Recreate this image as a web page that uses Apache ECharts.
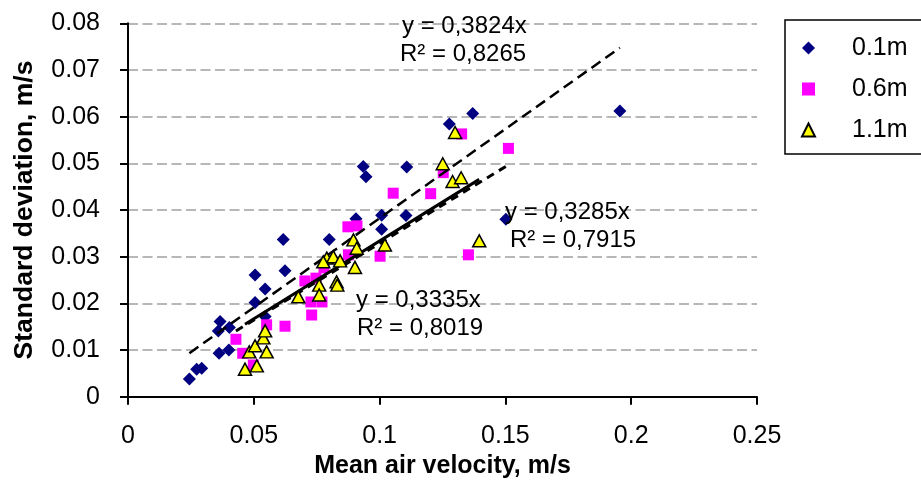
<!DOCTYPE html>
<html><head><meta charset="utf-8">
<script src="https://cdn.jsdelivr.net/npm/echarts@6/dist/echarts.min.js"></script>
<style>html,body{margin:0;padding:0;background:#fff}#c{width:921px;height:487px}</style>
</head><body><div id="c"></div>
<script>
// ---- data ----
const seriesNames = ['0.1m', '0.6m', '1.1m'];
const x01 = [0.0244,0.0273,0.0293,0.0362,0.0401,0.0366,0.0359,0.0403,0.0505,0.0545,0.0505,0.0624,0.0617,0.0800,0.0935,0.0946,0.1108,0.0906,0.1008,0.1105,0.1008,0.1370,0.1277,0.1502,0.1955,0.0545];
const y01 = [0.0038,0.0059,0.0061,0.0093,0.0100,0.0161,0.0141,0.0148,0.0261,0.0231,0.0202,0.0270,0.0337,0.0337,0.0493,0.0471,0.0492,0.0381,0.0389,0.0388,0.0359,0.0607,0.0584,0.0380,0.0612,0.0172];
const x06 = [0.0429,0.0456,0.0498,0.0551,0.0624,0.0703,0.0747,0.0779,0.0730,0.0727,0.0771,0.0874,0.0910,0.0876,0.1002,0.1054,0.1203,0.1253,0.1326,0.1512,0.1353];
const y06 = [0.0123,0.0093,0.0068,0.0154,0.0151,0.0248,0.0254,0.0276,0.0175,0.0203,0.0203,0.0364,0.0366,0.0304,0.0301,0.0436,0.0435,0.0480,0.0563,0.0532,0.0304];
const x11 = [0.0465,0.0482,0.0512,0.0505,0.0551,0.0538,0.0545,0.0677,0.0896,0.0909,0.1021,0.0790,0.0816,0.0776,0.0843,0.0902,0.0829,0.0832,0.0760,0.0760,0.1300,0.1251,0.1290,0.1324,0.1396];
const y11 = [0.0059,0.0096,0.0066,0.0109,0.0096,0.0126,0.0141,0.0214,0.0336,0.0318,0.0325,0.0297,0.0300,0.0289,0.0291,0.0277,0.0246,0.0239,0.0239,0.0218,0.0566,0.0499,0.0461,0.0469,0.0334];
const trendSlopes = [0.3824, 0.3285, 0.3335];
const trendEq = ['y = 0,3824x', 'y = 0,3285x', 'y = 0,3335x'];
const trendR2 = ['R² = 0,8265', 'R² = 0,7915', 'R² = 0,8019'];
const xTitle = 'Mean air velocity, m/s';
const yTitle = 'Standard deviation, m/s';

const zip = (xs, ys) => xs.map((x, i) => [x, ys[i]]);
const trend = (xs, k) => { const a = Math.min(...xs), b = Math.max(...xs); return [[a, k * a], [b, k * b]]; };

const FONT = 'Liberation Sans, Arial, sans-serif';
const chart = echarts.init(document.getElementById('c'), null, {renderer: 'canvas'});
chart.setOption({
  animation: false,
  backgroundColor: '#fff',
  grid: {left: 128, right: 164, top: 23.3, bottom: 90.3, containLabel: false},
  xAxis: {
    type: 'value', min: 0, max: 0.25, interval: 0.05,
    name: xTitle, nameLocation: 'middle', nameGap: 57,
    nameTextStyle: {fontFamily: FONT, fontSize: 25, fontWeight: 'bold', color: '#000'},
    axisLine: {lineStyle: {color: '#000', width: 2}},
    axisTick: {show: true, length: 8, lineStyle: {color: '#000', width: 2}},
    axisLabel: {fontFamily: FONT, fontSize: 25, color: '#000', margin: 27},
    splitLine: {show: false}
  },
  yAxis: {
    type: 'value', min: 0, max: 0.08, interval: 0.01,
    name: yTitle, nameLocation: 'middle', nameGap: 90,
    nameTextStyle: {fontFamily: FONT, fontSize: 26.5, fontWeight: 'bold', color: '#000'},
    axisLine: {show: true, lineStyle: {color: '#000', width: 2}},
    axisTick: {show: true, length: 8, lineStyle: {color: '#000', width: 2}},
    axisLabel: {fontFamily: FONT, fontSize: 25, color: '#000', margin: 28,
      formatter: v => (Math.round(v * 100) / 100).toString()},
    splitLine: {show: true, lineStyle: {color: '#a0a0a0', width: 1.5, type: [10, 4.5]}}
  },
  legend: {
    data: seriesNames, orient: 'vertical', left: 785, top: 20,
    backgroundColor: '#fff', borderColor: '#000', borderWidth: 1.5, borderRadius: 0,
    padding: [14, 60, 10, 16], itemGap: 13, itemWidth: 13, itemHeight: 13,
    textStyle: {fontFamily: FONT, fontSize: 25, color: '#000', padding: [0, 0, 0, 32], lineHeight: 28}
  },
  series: [
    {name: '0.1m', type: 'scatter', symbol: 'diamond', symbolSize: [13, 13], z: 2,
     itemStyle: {color: '#000080', opacity: 1}, data: zip(x01, y01)},
    {name: '0.6m', type: 'scatter', symbol: 'rect', symbolSize: [11, 11], z: 3,
     itemStyle: {color: '#ff00ff', opacity: 1}, data: zip(x06, y06)},
    {name: 't01', type: 'line', symbol: 'none', z: 4, silent: true,
     lineStyle: {color: '#000', width: 2.5, type: [11, 6]}, data: trend(x01, trendSlopes[0])},
    {name: 't06', type: 'line', symbol: 'none', z: 4, silent: true,
     lineStyle: {color: '#000', width: 3, type: [8, 6]}, data: trend(x06, trendSlopes[1])},
    {name: 't11', type: 'line', symbol: 'none', z: 4, silent: true,
     lineStyle: {color: '#000', width: 3}, data: trend(x11, trendSlopes[2])},
    {name: '1.1m', type: 'scatter', symbol: 'triangle', symbolSize: [13, 12], z: 5,
     itemStyle: {color: '#ffff00', borderColor: '#000', borderWidth: 1.5, opacity: 1}, data: zip(x11, y11)}
  ],
  graphic: [
    {type: 'text', left: 402, top: 14, z: 10, style: {text: trendEq[0], font: '24px ' + FONT, fill: '#000'}},
    {type: 'text', left: 400, top: 42, z: 10, style: {text: trendR2[0], font: '24px ' + FONT, fill: '#000'}},
    {type: 'text', left: 505, top: 200, z: 10, style: {text: trendEq[1], font: '24px ' + FONT, fill: '#000'}},
    {type: 'text', left: 510, top: 228, z: 10, style: {text: trendR2[1], font: '24px ' + FONT, fill: '#000'}},
    {type: 'text', left: 356, top: 288, z: 10, style: {text: trendEq[2], font: '24px ' + FONT, fill: '#000'}},
    {type: 'text', left: 357, top: 316, z: 10, style: {text: trendR2[2], font: '24px ' + FONT, fill: '#000'}}
  ]
});
</script></body></html>
